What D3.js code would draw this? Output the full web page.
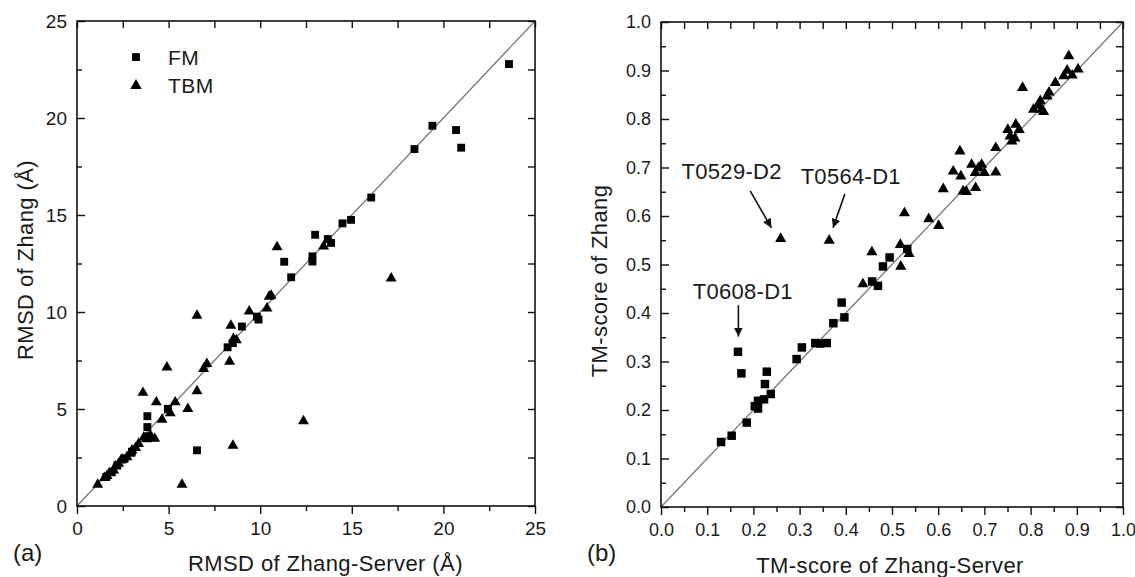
<!DOCTYPE html>
<html>
<head>
<meta charset="utf-8">
<script src="https://cdn.jsdelivr.net/npm/d3@7"></script>
<style>
  body { margin: 0; background: #fff; }
  text { font-family: "Liberation Sans", Arial, sans-serif; fill: #1a1a1a; }
</style>
</head>
<body>
<svg id="fig" width="1135" height="577"></svg>
<script>
// (a) RMSD values, [Zhang-Server, Zhang]
const rmsdFM = [
  [1.6, 1.5], [1.9, 1.75], [2.2, 2.1], [2.6, 2.45], [3.0, 2.8], [3.9, 3.6],
  [3.84, 4.07], [3.84, 4.63], [4.96, 5.01], [6.55, 2.87], [8.22, 8.18],
  [8.5, 8.4], [9.0, 9.25], [9.82, 9.76], [9.91, 9.61], [11.31, 12.59],
  [11.69, 11.79], [12.85, 12.87], [12.85, 12.6], [13.0, 13.98], [13.69, 13.76],
  [13.87, 13.56], [14.49, 14.57], [14.96, 14.75], [16.06, 15.9], [18.42, 18.4],
  [19.4, 19.6], [20.69, 19.38], [20.97, 18.47], [23.58, 22.78]
];
const rmsdTBM = [
  [1.13, 1.1], [1.5, 1.45], [1.64, 1.55], [1.8, 1.7], [2.0, 1.84], [2.1, 2.05],
  [2.27, 2.18], [2.4, 2.35], [2.5, 2.4], [2.73, 2.52], [2.9, 2.7], [3.0, 2.87],
  [3.2, 3.0], [3.36, 3.2], [3.64, 3.53], [3.8, 3.45], [4.0, 3.64], [4.24, 3.47],
  [3.6, 5.84], [4.33, 5.35], [4.64, 4.45], [4.91, 7.15], [5.09, 4.79],
  [5.36, 5.35], [6.05, 5.01], [6.55, 5.92], [5.73, 1.1], [6.91, 7.07],
  [7.09, 7.33], [6.55, 9.81], [8.33, 7.45], [8.46, 8.36], [8.54, 8.62],
  [8.7, 8.55], [8.4, 9.3], [9.4, 10.04], [10.37, 10.19], [10.49, 10.79],
  [10.6, 10.85], [8.51, 3.12], [12.36, 4.38], [10.92, 13.35], [13.46, 13.38],
  [17.15, 11.73]
];
const rmsdTicks = [0, 5, 10, 15, 20, 25];
const rmsdMinor = [2.5, 7.5, 12.5, 17.5, 22.5];

// (b) TM-score values, [Zhang-Server, Zhang]
const tmFM = [
  [0.130, 0.134], [0.153, 0.147], [0.1855, 0.174], [0.203, 0.208], [0.21, 0.203],
  [0.21, 0.219], [0.223, 0.222], [0.225, 0.2535], [0.229, 0.279], [0.2376, 0.233],
  [0.1666, 0.320], [0.174, 0.2756], [0.2935, 0.305], [0.305, 0.329], [0.334, 0.338],
  [0.344, 0.337], [0.3587, 0.338], [0.373, 0.379], [0.397, 0.391], [0.391, 0.4215],
  [0.457, 0.465], [0.4696, 0.456], [0.4804, 0.496], [0.4948, 0.5145], [0.533, 0.532]
];
const tmTBM = [
  [0.259, 0.553], [0.364, 0.5496], [0.437, 0.4595], [0.4565, 0.5256], [0.519, 0.496],
  [0.518, 0.5407], [0.537, 0.522], [0.527, 0.606], [0.5796, 0.594], [0.601, 0.58],
  [0.611, 0.6558], [0.6326, 0.692], [0.647, 0.7335], [0.649, 0.682], [0.654, 0.651],
  [0.661, 0.65], [0.681, 0.658], [0.6724, 0.706], [0.68, 0.689], [0.687, 0.699],
  [0.694, 0.706], [0.7, 0.689], [0.7246, 0.69], [0.7246, 0.7405], [0.7507, 0.778],
  [0.7557, 0.7645], [0.7594, 0.754], [0.768, 0.7886], [0.7753, 0.778], [0.7826, 0.8645],
  [0.8065, 0.8196], [0.816, 0.828], [0.8246, 0.8196], [0.821, 0.837], [0.8355, 0.847],
  [0.84, 0.855], [0.8535, 0.8748], [0.8717, 0.8885], [0.879, 0.9], [0.8826, 0.93],
  [0.89, 0.89], [0.9027, 0.9027], [0.828, 0.815], [0.766, 0.76]
];
const tmTicks = [0, 0.1, 0.2, 0.3, 0.4, 0.5, 0.6, 0.7, 0.8, 0.9, 1.0];
const tmMinor = [0.05, 0.15, 0.25, 0.35, 0.45, 0.55, 0.65, 0.75, 0.85, 0.95];

// labelled targets: text position, arrow start, arrow end
const tmNotes = [
  { name: "T0529-D2", at: [0.153, 0.6935], from: [0.193, 0.6517], to: [0.239, 0.5757] },
  { name: "T0564-D1", at: [0.4107, 0.682], from: [0.398, 0.6456], to: [0.3724, 0.5757] },
  { name: "T0608-D1", at: [0.177, 0.446], from: [0.1675, 0.416], to: [0.1675, 0.3513] }
];

const svg = d3.select("#fig");

svg.append("defs").append("marker")
    .attr("id", "head")
    .attr("viewBox", "0 0 10 10")
    .attr("refX", 10).attr("refY", 5)
    .attr("markerWidth", 9).attr("markerHeight", 9)
    .attr("markerUnits", "userSpaceOnUse")
    .attr("orient", "auto")
  .append("path")
    .attr("d", "M0,0 L10,5 L0,10 Z")
    .attr("fill", "#111");

function panel(o) {
  const x = d3.scaleLinear().domain(o.domain).range([o.left, o.right]);
  const y = d3.scaleLinear().domain(o.domain).range([o.bottom, o.top]);
  const g = svg.append("g");

  // y = x reference line
  g.append("line")
      .attr("x1", x(o.domain[0])).attr("y1", y(o.domain[0]))
      .attr("x2", x(o.domain[1])).attr("y2", y(o.domain[1]))
      .attr("stroke", "#777").attr("stroke-width", 1.3);

  const addAxis = (axis, tx, ty) => {
    const a = g.append("g").attr("transform", `translate(${tx},${ty})`).call(axis);
    a.select(".domain").remove();
    a.selectAll(".tick line").attr("stroke", "#111").attr("stroke-width", 1.4);
    a.selectAll("text").attr("font-size", o.tickFont).attr("fill", "#1a1a1a")
      .attr("font-family", '"Liberation Sans", Arial, sans-serif');
    return a;
  };

  addAxis(d3.axisBottom(x).tickValues(o.ticks).tickFormat(o.fmt).tickSize(8).tickPadding(8), 0, o.bottom);
  addAxis(d3.axisBottom(x).tickValues(o.minor).tickFormat("").tickSize(5), 0, o.bottom);
  addAxis(d3.axisLeft(y).tickValues(o.ticks).tickFormat(o.fmt).tickSize(-8).tickPadding(10), o.left, 0);
  addAxis(d3.axisLeft(y).tickValues(o.minor).tickFormat("").tickSize(-5), o.left, 0);
  addAxis(d3.axisTop(x).tickValues(o.ticks.concat(o.minor)).tickFormat("").tickSize(-7), 0, o.top);
  addAxis(d3.axisRight(y).tickValues(o.ticks.concat(o.minor)).tickFormat("").tickSize(-7), o.right, 0);

  g.append("rect")
      .attr("x", o.left).attr("y", o.top)
      .attr("width", o.right - o.left).attr("height", o.bottom - o.top)
      .attr("fill", "none").attr("stroke", "#111").attr("stroke-width", 1.6);

  const sq = d3.symbol(d3.symbolSquare, o.sqSize);
  const tri = d3.symbol(d3.symbolTriangle, o.triSize);

  g.append("g").selectAll("path")
    .data(o.fm)
    .join("path")
      .attr("d", sq)
      .attr("transform", d => `translate(${x(d[0])},${y(d[1])})`)
      .attr("fill", "#000");

  g.append("g").selectAll("path")
    .data(o.tbm)
    .join("path")
      .attr("d", tri)
      .attr("transform", d => `translate(${x(d[0])},${y(d[1])})`)
      .attr("fill", "#000");

  // axis titles
  g.append("text")
      .attr("x", o.xTitle[0]).attr("y", o.xTitle[1])
      .attr("text-anchor", o.xTitle[2])
      .attr("font-size", 22)
      .attr("letter-spacing", 0.4)
      .text(o.xLabel);

  g.append("text")
      .attr("transform", `translate(${o.yTitle[0]},${o.yTitle[1]}) rotate(-90)`)
      .attr("text-anchor", "middle")
      .attr("dy", "0.35em")
      .attr("font-size", 22)
      .attr("letter-spacing", 0.4)
      .text(o.yLabel);

  g.append("text")
      .attr("x", o.tag[0]).attr("y", o.tag[1])
      .attr("font-size", 24)
      .text(o.tagText);

  return { x, y, g };
}

// panel (a)
const pa = panel({
  domain: [0, 25], left: 77, right: 535, top: 21, bottom: 506,
  ticks: rmsdTicks, minor: rmsdMinor, fmt: d3.format("d"), tickFont: 19,
  fm: rmsdFM, tbm: rmsdTBM, sqSize: 62, triSize: 52,
  xLabel: "RMSD of Zhang-Server (Å)", xTitle: [188, 571, "start"],
  yLabel: "RMSD of Zhang (Å)", yTitle: [25, 260],
  tag: [13, 561], tagText: "(a)"
});

// legend of (a)
const legend = [
  { name: "FM", sym: d3.symbolSquare, size: 62, at: [3.22, 23.14] },
  { name: "TBM", sym: d3.symbolTriangle, size: 56, at: [3.22, 21.67] }
];
const lg = pa.g.append("g").selectAll("g").data(legend).join("g")
    .attr("transform", d => `translate(${pa.x(d.at[0])},${pa.y(d.at[1])})`);
lg.append("path").attr("d", d => d3.symbol(d.sym, d.size)()).attr("fill", "#000");
lg.append("text")
    .attr("x", pa.x(4.97) - pa.x(3.22))
    .attr("dy", "0.36em")
    .attr("font-size", 21)
    .attr("letter-spacing", 0.5)
    .text(d => d.name);

// panel (b)
const pb = panel({
  domain: [0, 1], left: 661, right: 1123, top: 22, bottom: 507,
  ticks: tmTicks, minor: tmMinor, fmt: d3.format(".1f"), tickFont: 18,
  fm: tmFM, tbm: tmTBM, sqSize: 72, triSize: 54,
  xLabel: "TM-score of Zhang-Server", xTitle: [890, 573, "middle"],
  yLabel: "TM-score of Zhang", yTitle: [599, 281],
  tag: [587, 561], tagText: "(b)"
});

const notes = pb.g.append("g").selectAll("g").data(tmNotes).join("g");
notes.append("text")
    .attr("x", d => pb.x(d.at[0]))
    .attr("y", d => pb.y(d.at[1]))
    .attr("dy", "0.36em")
    .attr("text-anchor", "middle")
    .attr("font-size", 22)
    .attr("letter-spacing", 0.3)
    .text(d => d.name);
notes.append("line")
    .attr("x1", d => pb.x(d.from[0])).attr("y1", d => pb.y(d.from[1]))
    .attr("x2", d => pb.x(d.to[0])).attr("y2", d => pb.y(d.to[1]))
    .attr("stroke", "#111").attr("stroke-width", 1.6)
    .attr("marker-end", "url(#head)");
</script>
</body>
</html>
